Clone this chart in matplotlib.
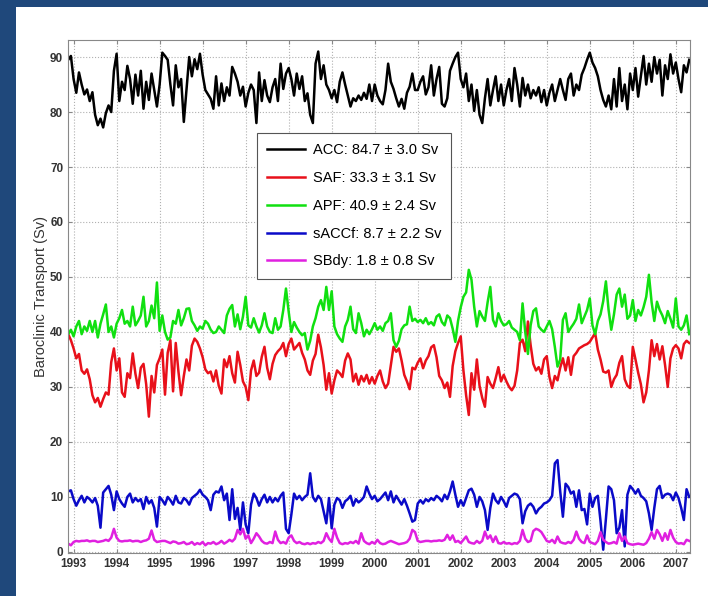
import numpy as np
import matplotlib
matplotlib.use("Agg")
import matplotlib.pyplot as plt
from matplotlib.patches import Rectangle

# sampling: every 1/16 year starting late 1992
t_start = 1992.875
per_year = 16

acc = [89.5, 90.2,
       86.0, 83.5, 87.2, 85.0, 83.2, 84.1, 82.0, 83.6, 79.5, 77.6, 78.8, 77.2, 79.8, 81.2, 80.0, 87.5,
       90.6, 82.0, 85.5, 84.0, 88.4, 86.0, 81.5, 86.8, 83.0, 87.5, 80.6, 85.5, 82.2, 87.0, 84.0, 81.0,
       85.0, 90.8, 90.2, 89.5, 85.0, 81.2, 88.5, 84.5, 86.0, 78.2, 84.0, 90.0, 86.5, 89.6, 87.8, 90.6,
       86.8, 84.0, 83.2, 82.4, 80.6, 86.5, 81.2, 85.2, 82.0, 84.5, 83.0, 88.2, 87.0, 85.5, 83.0, 84.6,
       81.0, 83.5, 85.0, 84.0, 78.0, 87.2, 82.0, 85.8, 83.0, 81.8, 84.5, 86.0, 82.0, 88.8, 84.2, 87.0,
       88.0, 86.0, 83.0, 87.0, 84.2, 86.5, 82.0, 83.4, 79.5, 78.0, 88.8, 91.0, 86.0, 88.5, 85.0, 84.0,
       82.5, 84.0, 81.8, 85.5, 87.2, 85.0, 83.0, 81.0, 82.5, 82.0, 83.0, 82.2, 83.5, 82.4, 85.0, 82.0,
       85.0, 83.0, 82.0, 81.4, 84.0, 88.8, 85.5, 84.2, 82.5, 81.0, 82.4, 80.6, 83.5, 84.6, 87.0, 84.0,
       84.0, 85.5, 86.5, 83.2, 84.5, 88.5, 83.0, 86.0, 88.2, 81.5, 81.0, 82.5, 87.5, 88.8, 90.0, 90.8,
       86.0, 84.5, 87.0, 82.0, 85.0, 80.2, 84.0, 79.5, 78.0, 82.5, 86.0, 81.2, 84.0, 86.5, 82.0, 85.0,
       81.2, 84.0, 86.0, 82.0, 88.0, 85.0, 81.0, 86.2, 83.0, 85.0, 82.5, 84.0, 83.0, 84.5, 81.8, 84.0,
       81.2, 83.5, 85.0, 82.0, 84.0, 86.0, 84.0, 82.2, 86.0, 87.0, 83.0, 85.0, 84.0, 86.8, 88.0, 89.5,
       90.8, 89.0, 88.0, 86.5, 84.0, 82.2, 81.0, 83.0, 80.5, 86.0, 81.0, 88.0, 82.0, 85.0, 80.5, 87.0,
       84.0, 88.0, 82.8, 86.5, 90.2, 85.0, 88.8, 85.5, 90.0, 87.0, 89.5, 83.0, 88.5, 86.0, 90.5, 87.0,
       89.0, 86.0, 83.6, 88.5, 87.2, 89.5]

saf = [39.6, 38.5, 37.0, 35.2, 36.0, 33.0, 32.4, 33.2, 31.4, 28.5, 27.2, 28.0, 26.4, 27.8, 29.0, 28.6,
       34.5, 37.0, 33.0, 35.2, 29.0, 28.2, 32.5, 31.6, 36.1, 32.4, 29.8, 33.5, 34.2, 30.5, 24.6, 32.0,
       29.0, 34.0, 35.2, 36.8, 28.6, 36.2, 38.5, 29.2, 38.0, 32.8, 28.5, 32.0, 35.0, 33.0, 37.5, 38.8,
       38.2, 37.0, 35.4, 33.2, 32.5, 32.8, 31.0, 33.0, 30.2, 28.8, 35.0, 33.6, 35.6, 32.5, 30.8, 36.4,
       34.0, 31.0, 30.0, 27.6, 33.0, 34.8, 32.0, 32.6, 35.5, 37.3, 33.5, 31.4, 34.2, 35.8, 36.5, 37.0,
       38.0, 35.6, 37.8, 38.8, 36.8, 37.4, 38.0, 36.2, 35.0, 33.0, 32.2, 34.8, 36.0, 39.5, 37.2, 34.0,
       29.5, 32.5, 28.8, 31.2, 33.0, 32.5, 31.8, 34.8, 36.1, 35.0, 31.0, 32.4, 30.4, 32.0, 31.0, 32.2,
       30.6, 31.8, 30.6, 32.0, 33.0, 31.0, 29.8, 30.6, 34.0, 37.3, 36.4, 37.0, 34.8, 32.2, 31.0, 29.6,
       33.5, 33.2, 34.4, 35.2, 33.4, 34.8, 35.6, 37.2, 37.6, 35.4, 32.0, 31.2, 29.8, 30.8, 28.2, 33.8,
       36.5, 38.0, 39.2, 33.0, 28.5, 24.9, 32.5, 29.5, 35.0, 30.2, 28.0, 26.4, 31.8, 30.6, 29.8, 31.6,
       33.6, 31.0, 32.2, 31.0, 30.0, 29.4, 30.2, 33.0, 38.0, 38.6, 36.5, 41.9, 37.6, 34.2, 33.0, 33.6,
       32.4, 35.0, 35.6, 31.8, 29.8, 32.0, 31.2, 33.5, 35.2, 33.0, 35.4, 32.2, 35.6, 36.2, 37.0, 37.3,
       37.6, 37.8, 38.2, 39.0, 39.8, 36.8, 35.0, 32.8, 32.6, 33.0, 30.0, 31.4, 32.2, 34.4, 35.6, 31.4,
       30.2, 29.8, 37.3, 35.0, 32.6, 30.5, 27.2, 29.0, 33.0, 38.5, 35.6, 37.8, 35.0, 37.4, 34.0, 30.0,
       35.2, 37.0, 37.6, 37.0, 35.2, 37.8, 38.4, 38.0]

apf = [39.6, 40.4, 39.2, 41.0, 42.0, 39.6, 41.0, 40.2, 42.0, 40.0, 42.0, 39.0, 41.5, 43.2, 45.0, 40.0,
       41.0, 39.0, 41.5, 42.5, 44.0, 41.5, 42.0, 41.0, 44.6, 41.2, 42.0, 43.0, 46.4, 41.0, 42.0, 44.8,
       42.5, 49.0, 40.2, 43.0, 40.0, 38.6, 39.0, 42.0, 41.5, 44.0, 41.2, 42.5, 44.2, 44.3, 42.0, 41.2,
       40.2, 41.0, 40.6, 42.0, 41.5, 40.4, 39.8, 40.0, 41.0, 40.4, 39.8, 43.0, 44.2, 44.9, 41.0, 43.2,
       40.5, 42.8, 46.4, 41.2, 40.8, 42.5, 41.0, 39.9, 41.2, 43.4, 41.0, 40.0, 39.8, 42.5, 40.4, 41.0,
       44.0, 47.9, 43.7, 40.0, 41.8, 40.8, 40.0, 39.4, 39.8, 36.8, 38.4, 41.0, 42.5, 44.6, 45.8, 44.0,
       48.2, 44.0, 47.4, 41.0, 39.6, 38.8, 38.2, 41.0, 42.2, 44.6, 40.5, 39.8, 43.4, 41.6, 39.2, 40.4,
       39.6, 40.5, 41.6, 40.4, 41.0, 40.2, 41.6, 42.0, 43.4, 38.5, 37.3, 38.4, 40.5, 41.2, 41.4, 44.6,
       42.0, 42.4, 41.8, 42.2, 41.6, 42.5, 41.4, 41.8, 41.2, 42.8, 43.2, 41.8, 41.2, 43.0, 42.5, 40.6,
       38.2, 42.0, 44.5, 46.4, 47.2, 51.3, 49.5, 44.6, 41.0, 43.8, 42.8, 42.0, 45.4, 48.2, 42.2, 41.0,
       43.4, 42.0, 41.2, 41.4, 42.0, 40.8, 40.4, 40.0, 38.5, 45.2, 40.0, 36.0, 41.2, 43.8, 44.3, 41.0,
       40.4, 40.0, 41.0, 42.0, 40.5, 37.3, 33.7, 35.0, 42.2, 43.4, 40.0, 40.8, 41.5, 42.4, 45.0, 41.6,
       42.8, 44.0, 46.1, 41.2, 39.6, 42.0, 43.2, 45.6, 49.2, 44.0, 40.4, 43.2, 46.8, 47.9, 44.6, 46.8,
       42.4, 43.0, 45.8, 42.0, 44.0, 43.0, 44.5, 46.4, 50.4, 45.4, 42.0, 45.5, 44.0, 43.0, 41.6, 43.8,
       42.4, 40.8, 46.1, 41.0, 40.4, 41.2, 43.0, 39.6]

saccf = [11.0, 11.2, 9.6, 8.4, 9.4, 10.2, 9.0, 10.0, 9.6, 9.0, 9.8, 8.4, 4.4, 10.8, 11.4, 12.0,
         10.4, 7.6, 11.0, 9.6, 8.8, 8.2, 10.0, 10.6, 9.0, 9.8, 9.2, 9.6, 7.8, 10.0, 8.8, 9.4,
         8.0, 4.6, 10.0, 9.4, 8.6, 10.0, 9.4, 8.6, 10.2, 9.0, 8.8, 9.8, 9.4, 8.6, 9.8, 10.2,
         10.6, 11.3, 10.4, 10.0, 9.4, 7.6, 10.4, 11.0, 10.8, 11.9, 9.4, 10.6, 5.8, 11.4, 6.0, 8.0,
         4.0, 9.0, 5.0, 3.4, 8.6, 10.6, 9.8, 8.4, 9.6, 10.4, 9.0, 10.0, 9.0, 9.8, 9.2, 10.2,
         10.8, 4.2, 3.4, 6.8, 10.6, 9.6, 10.2, 9.4, 10.0, 10.4, 14.3, 10.0, 9.2, 10.2, 9.6, 7.4,
         5.2, 9.8, 4.3, 8.6, 9.8, 9.4, 8.0, 9.2, 9.6, 10.2, 8.4, 9.6, 9.0, 9.4, 10.0, 11.9,
         10.6, 9.6, 10.2, 9.2, 9.6, 10.2, 10.8, 9.4, 11.0, 9.0, 10.2, 9.4, 8.6, 9.6, 8.4, 7.0,
         5.5, 5.8, 8.8, 9.4, 8.8, 9.6, 9.2, 9.8, 9.4, 10.2, 9.8, 9.2, 10.4, 9.6, 11.0, 12.8,
         10.4, 8.2, 9.4, 8.4, 9.8, 11.2, 11.5, 10.4, 8.2, 10.0, 9.2, 7.6, 4.0, 8.0, 10.6, 9.4,
         8.8, 10.0, 9.2, 8.2, 9.8, 10.2, 10.6, 10.4, 9.6, 5.2, 7.4, 8.4, 8.8, 8.2, 7.0, 7.8,
         8.2, 8.8, 9.0, 9.4, 10.2, 16.1, 16.7, 11.0, 6.4, 12.4, 11.8, 10.6, 11.0, 8.2, 11.2, 7.6,
         7.8, 5.0, 10.6, 8.2, 9.8, 10.2, 5.6, 0.4, 6.0, 11.9, 11.4, 9.4, 3.4, 4.4, 7.6, 1.0,
         10.4, 12.0, 11.4, 10.6, 11.4, 10.2, 9.8, 9.2, 7.0, 4.0, 8.0, 11.4, 12.0, 9.8, 10.4, 10.6,
         10.4, 9.4, 10.8, 9.8, 8.0, 5.8, 11.4, 10.0]

sbdy = [1.5, 1.2, 1.8, 2.0, 1.9, 2.0, 2.0, 2.1, 1.9, 2.0, 2.0, 1.8, 1.9, 2.0, 2.2, 2.0,
        2.6, 4.2, 2.6, 2.0, 1.9, 2.0, 2.0, 2.1, 1.9, 2.0, 2.0, 1.8, 2.0, 2.1, 2.4, 3.9,
        2.2, 1.8, 1.9, 2.0, 2.0, 1.8, 1.6, 1.9, 1.8, 1.5, 1.6, 1.8, 1.4, 1.5, 1.8, 1.3,
        1.6, 1.4, 1.8, 1.2, 1.6, 1.5, 1.8, 1.4, 1.6, 2.0, 1.5, 1.8, 2.2, 1.9, 2.4, 4.0,
        3.2, 4.2, 2.4, 3.0, 1.6, 2.4, 3.4, 2.8, 2.0, 1.6, 1.5, 1.8, 1.6, 3.7, 2.2, 1.6,
        1.8, 1.5, 2.6, 3.0, 2.0, 1.6, 1.8, 1.5, 1.4, 1.6, 1.4, 1.6, 1.5, 1.8, 1.6, 2.0,
        3.4, 2.4, 1.8, 4.2, 2.6, 1.6, 1.4, 1.6, 1.5, 1.8, 1.6, 2.0, 1.5, 3.4, 2.0, 1.6,
        1.4, 1.8, 1.5, 2.2, 1.6, 1.4, 1.5, 1.8, 2.0, 1.8, 1.6, 1.4, 1.5, 1.6, 1.8, 2.4,
        4.0, 3.6, 2.0, 1.8, 1.9, 2.0, 2.0, 1.9, 2.0, 2.0, 2.1, 2.0, 2.2, 3.1, 2.2, 3.0,
        1.8, 2.0, 1.6, 2.2, 2.8, 1.8, 1.6, 1.5, 2.0, 1.6, 2.0, 3.7, 2.4, 3.0, 1.8, 2.8,
        1.6, 1.5, 1.8, 1.5, 1.6, 1.4, 1.6, 1.5, 2.0, 4.0, 2.4, 1.8, 2.0, 3.8, 4.2, 4.0,
        3.6, 2.8, 2.0, 1.8, 2.2, 1.6, 2.8, 1.8, 1.6, 1.5, 1.8, 1.6, 2.2, 3.7, 2.4, 1.8,
        1.6, 3.0, 1.8, 1.6, 1.4, 2.0, 3.6, 2.2, 1.8, 1.5, 1.6, 1.8, 1.5, 3.4, 2.0, 2.8,
        1.6, 1.4, 1.3, 1.4, 1.5, 1.4, 1.3, 1.6, 2.4, 3.6, 2.4, 4.0, 3.2, 2.0, 3.4, 2.2,
        4.0, 2.6, 1.8, 1.5, 1.6, 1.4, 2.2, 2.0]

names = ["ACC: 84.7 \u00b1 3.0 Sv", "SAF: 33.3 \u00b1 3.1 Sv", "APF: 40.9 \u00b1 2.4 Sv",
         "sACCf: 8.7 \u00b1 2.2 Sv", "SBdy: 1.8 \u00b1 0.8 Sv"]
colors = ["#000000", "#e8101a", "#10e010", "#0a0ac8", "#e020e0"]
years = list(range(1993, 2008))
yticks = list(range(0, 100, 10))

plt.rcParams['font.family'] = ['Liberation Sans', 'DejaVu Sans']

fig = plt.figure(figsize=(7.08, 5.96), dpi=100, facecolor="#1f487b")
fig.patches.append(Rectangle((16 / 708, 0), 1 - 16 / 708, 1 - 7 / 596,
                             transform=fig.transFigure, facecolor="white",
                             edgecolor="none", zorder=-10))

ax = fig.add_axes([68 / 708, 1 - 553 / 596, 622 / 708, 513 / 596])
ax.set_zorder(5)
ax.set_facecolor("white")

for series, lab, col in zip([acc, saf, apf, saccf, sbdy], names, colors):
    t = t_start + np.arange(len(series)) / per_year
    ax.plot(t, series, color=col, lw=1.8, label=lab)

ax.set_xlim(1992.87, 2007.33)
ax.set_ylim(-0.2, 93.1)
ax.set_xticks(years)
ax.set_xticklabels([str(y) for y in years])
ax.set_yticks(yticks)
ax.grid(True, color="#b0b0b0", linestyle=":", linewidth=0.8)
ax.tick_params(direction="in", length=3, labelsize=8.5, colors="#888888",
               labelcolor="#333333", top=True, right=True)
for lbl in ax.get_xticklabels() + ax.get_yticklabels():
    lbl.set_fontweight("bold")
for sp in ax.spines.values():
    sp.set_color("#888888")
ax.set_ylabel("Baroclinic Transport (Sv)", fontsize=10.5, color="#333333", labelpad=1)

leg = ax.legend(loc="upper left", bbox_to_anchor=(0.304, 0.819), borderaxespad=0,
                fontsize=10.5, handlelength=2.6, handletextpad=0.5, labelspacing=0.95,
                fancybox=False, framealpha=1, edgecolor="#555555", borderpad=0.7)
leg.get_frame().set_linewidth(0.8)

fig.savefig("out.png", dpi=100, facecolor=fig.get_facecolor())
print([len(s) for s in [acc, saf, apf, saccf, sbdy]])
